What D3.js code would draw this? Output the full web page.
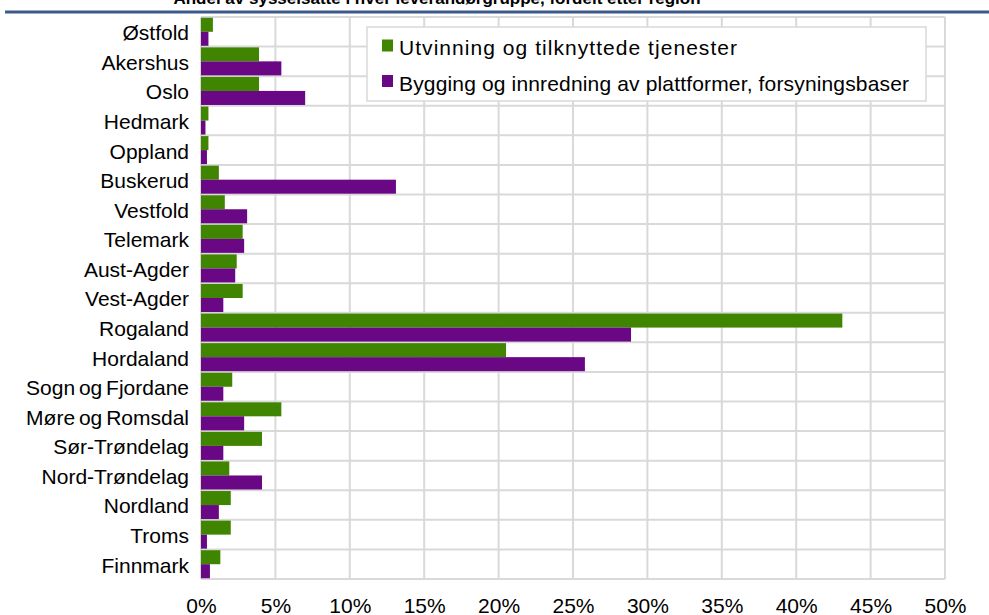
<!DOCTYPE html>
<html><head><meta charset="utf-8">
<script src="https://cdn.jsdelivr.net/npm/d3@7"></script>
<style>
html,body{margin:0;padding:0;background:#fff;}
svg{display:block;font-family:"Liberation Sans",Arial,sans-serif;}
</style></head>
<body>
<svg id="c" width="989" height="615"></svg>
<script>
const categories = ["Østfold","Akershus","Oslo","Hedmark","Oppland","Buskerud","Vestfold","Telemark","Aust-Agder","Vest-Agder","Rogaland","Hordaland","Sogn og Fjordane","Møre og Romsdal","Sør-Trøndelag","Nord-Trøndelag","Nordland","Troms","Finnmark"];
const seriesNames = ["Utvinning og tilknyttede tjenester","Bygging og innredning av plattformer, forsyningsbaser"];
const utvinning = [0.8,3.9,3.9,0.5,0.5,1.2,1.6,2.8,2.4,2.8,43.1,20.5,2.1,5.4,4.1,1.9,2.0,2.0,1.3];
const bygging   = [0.5,5.4,7.0,0.3,0.4,13.1,3.1,2.9,2.3,1.5,28.9,25.8,1.5,2.9,1.5,4.1,1.2,0.4,0.6];
const xTicks = [0,5,10,15,20,25,30,35,40,45,50];
const titleText = "Andel av sysselsatte i hver leverandørgruppe, fordelt etter region";

const colors = ["#3f8500","#690785"];
const svg = d3.select("#c");
const L = 201, R = 945, T = 17, B = 579;

// cut-off title & blue rule
svg.append("text").attr("x", 437).attr("y", 4).attr("text-anchor","middle")
  .attr("font-size", 17).attr("font-weight","bold").attr("fill","#000").text(titleText);
svg.append("rect").attr("x",5).attr("y",10.5).attr("width",984).attr("height",3).attr("fill","#3d5a8a");

const x = d3.scaleLinear().domain([0,50]).range([L,R]);
const y = d3.scaleBand().domain(categories).range([T,B]).paddingInner(0).paddingOuter(0);
const inner = d3.scaleBand().domain([0,1]).range([0,y.bandwidth()]).paddingOuter(0.055).paddingInner(0);

const grid = svg.append("g");
const bounds = categories.map(c=>y(c)).concat([B]);
grid.selectAll("line.h").data(bounds).enter().append("line")
  .attr("x1",L).attr("x2",R).attr("y1",d=>d).attr("y2",d=>d)
  .attr("stroke","#d9d9d9").attr("stroke-width",2);
grid.selectAll("line.v").data(xTicks).enter().append("line")
  .attr("x1",d=>x(d)).attr("x2",d=>x(d)).attr("y1",T).attr("y2",B)
  .attr("stroke","#d9d9d9").attr("stroke-width",2);

const series = [utvinning, bygging];
series.forEach((vals,si)=>{
  svg.append("g").selectAll("rect").data(categories).enter().append("rect")
    .attr("x", L)
    .attr("y", (c)=>y(c)+inner(si))
    .attr("width", (c,i)=>x(vals[i])-L)
    .attr("height", inner.bandwidth())
    .attr("fill", colors[si]);
});

// category labels
svg.append("g").selectAll("text").data(categories).enter().append("text")
  .attr("x", 189).attr("y", c=>y(c)+y.bandwidth()/2+8.4)
  .attr("text-anchor","end").attr("font-size",21).attr("word-spacing","-2px")
  .attr("fill","#000").text(d=>d);

// x axis labels
const xAxis = d3.axisBottom(x).tickValues(xTicks).tickSize(0).tickPadding(0).tickFormat(d=>d+"%");
const ax = svg.append("g").attr("transform",`translate(0,${B})`).call(xAxis);
ax.select(".domain").remove();
ax.selectAll("text").attr("font-size",21).attr("fill","#000")
  .attr("font-family","'Liberation Sans',Arial,sans-serif")
  .attr("dy",null).attr("y",33.5);

// legend
const legendWidths = [338, 510];
const lg = svg.append("g");
lg.append("rect").attr("x",367).attr("y",27).attr("width",559).attr("height",74)
  .attr("fill","#fff").attr("stroke","#d9d9d9").attr("stroke-width",1.5);
seriesNames.forEach((n,i)=>{
  const by = 55 + i*35.5;
  lg.append("rect").attr("x",382).attr("y",by-15.5).attr("width",11).attr("height",12).attr("fill",colors[i]);
  lg.append("text").attr("x",399).attr("y",by).attr("font-size",21)
    .attr("textLength",legendWidths[i]).attr("lengthAdjust","spacing")
    .attr("fill","#000").text(n);
});
</script>
</body></html>
